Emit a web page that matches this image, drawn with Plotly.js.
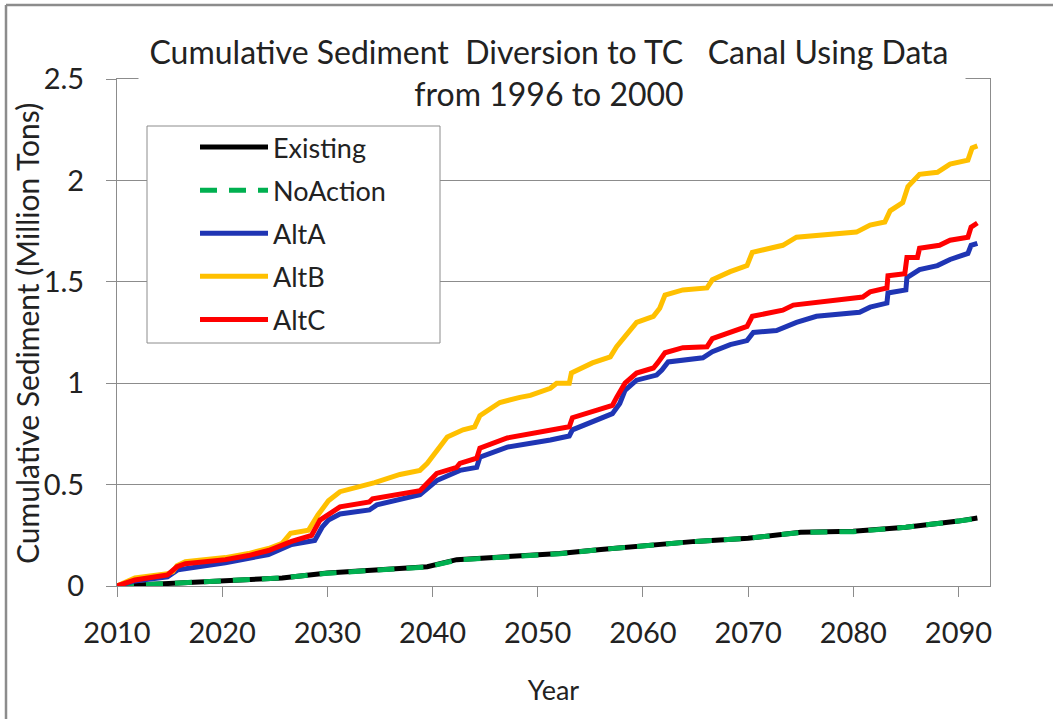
<!DOCTYPE html>
<html>
<head>
<meta charset="utf-8">
<script src="https://cdn.plot.ly/plotly-3.0.1.min.js"></script>
<style>
  html, body { margin: 0; padding: 0; background: #fff; }
  #chart { width: 1053px; height: 719px; }
</style>
</head>
<body>
<div id="chart"></div>
<script>
// ---- Data ----
var seriesNames = ["Existing", "NoAction", "AltA", "AltB", "AltC"];

var existingYears = [2010, 2012, 2015.8, 2020.3, 2025.7, 2030, 2035, 2039.5, 2042.3, 2046, 2052.1, 2056, 2060, 2065, 2070, 2075, 2080, 2085, 2090, 2091.8];
var existingValues = [0, 0.005, 0.015, 0.03, 0.04, 0.064, 0.08, 0.095, 0.13, 0.14, 0.16, 0.18, 0.2, 0.22, 0.235, 0.265, 0.27, 0.29, 0.32, 0.335];

var noActionYears = [2010, 2012, 2015.8, 2020.3, 2025.7, 2030, 2035, 2039.5, 2042.3, 2046, 2052.1, 2056, 2060, 2065, 2070, 2075, 2080, 2085, 2090, 2091.8];
var noActionValues = [0, 0.005, 0.015, 0.03, 0.04, 0.063, 0.08, 0.094, 0.128, 0.14, 0.159, 0.18, 0.2, 0.22, 0.235, 0.264, 0.268, 0.29, 0.32, 0.333];

var altAYears = [2010, 2011.7, 2014.8, 2015.8, 2020.3, 2024.4, 2026.6, 2028.8, 2029.5, 2030.1, 2031.2, 2034.0, 2034.7, 2038.8, 2039.5, 2040.4, 2042.6, 2044.2, 2044.5, 2047.1, 2051.2, 2053.0, 2053.3, 2055.6, 2057.1, 2057.8, 2058.3, 2059.4, 2061.3, 2061.8, 2062.4, 2065.7, 2066.6, 2068.3, 2069.9, 2070.5, 2072.7, 2074.6, 2076.5, 2080.6, 2081.6, 2083.2, 2083.3, 2085.0, 2085.1, 2086.3, 2088.0, 2089.2, 2090.9, 2091.2, 2091.8];
var altAValues = [0, 0.025, 0.045, 0.08, 0.115, 0.155, 0.205, 0.225, 0.29, 0.325, 0.355, 0.375, 0.4, 0.45, 0.48, 0.52, 0.57, 0.585, 0.635, 0.685, 0.72, 0.74, 0.77, 0.82, 0.85, 0.9, 0.965, 1.015, 1.04, 1.065, 1.105, 1.125, 1.155, 1.19, 1.21, 1.25, 1.26, 1.3, 1.33, 1.35, 1.375, 1.395, 1.445, 1.46, 1.52, 1.56, 1.58, 1.61, 1.64, 1.68, 1.69];

var altBYears = [2010, 2011.7, 2014.8, 2015.3, 2015.7, 2016.5, 2020.3, 2022.5, 2024.4, 2025.7, 2026.5, 2028.2, 2029.1, 2030.1, 2031.2, 2032.4, 2034.0, 2034.5, 2036.9, 2038.8, 2039.5, 2040.2, 2041.0, 2041.4, 2042.9, 2044.0, 2044.5, 2046.4, 2048.3, 2049.3, 2051.2, 2051.8, 2053.0, 2053.2, 2055.2, 2056.9, 2057.5, 2058.5, 2059.4, 2061.0, 2061.6, 2062.1, 2063.8, 2066.1, 2066.6, 2068.3, 2069.9, 2070.4, 2073.3, 2074.6, 2076.5, 2080.3, 2081.6, 2083.0, 2083.5, 2084.7, 2085.2, 2086.3, 2088.0, 2089.2, 2090.9, 2091.3, 2091.8];
var altBValues = [0, 0.04, 0.06, 0.07, 0.1, 0.12, 0.14, 0.16, 0.185, 0.21, 0.26, 0.275, 0.35, 0.42, 0.465, 0.48, 0.5, 0.51, 0.55, 0.57, 0.605, 0.655, 0.705, 0.735, 0.77, 0.785, 0.84, 0.905, 0.93, 0.94, 0.975, 1.0, 1.0, 1.05, 1.1, 1.13, 1.18, 1.245, 1.3, 1.33, 1.37, 1.435, 1.46, 1.47, 1.51, 1.55, 1.58, 1.645, 1.68, 1.72, 1.73, 1.745, 1.78, 1.795, 1.85, 1.89, 1.97, 2.03, 2.04, 2.08, 2.1, 2.16, 2.17];

var altCYears = [2010, 2011.7, 2014.8, 2015.7, 2016.5, 2020.3, 2022.5, 2024.4, 2026.6, 2028.5, 2029.3, 2030.4, 2031.2, 2034.0, 2034.3, 2038.8, 2039.5, 2040.4, 2042.3, 2042.6, 2044.2, 2044.5, 2047.1, 2051.2, 2053.0, 2053.3, 2055.6, 2057.1, 2057.5, 2058.3, 2059.4, 2061.0, 2061.4, 2062.1, 2063.8, 2066.1, 2066.6, 2068.3, 2069.9, 2070.4, 2073.3, 2074.3, 2076.5, 2080.9, 2081.6, 2083.2, 2083.3, 2084.9, 2085.1, 2086.1, 2086.3, 2088.2, 2089.2, 2090.9, 2091.2, 2091.8];
var altCValues = [0, 0.03, 0.055, 0.095, 0.11, 0.13, 0.15, 0.175, 0.22, 0.25, 0.325, 0.36, 0.39, 0.415, 0.43, 0.47, 0.51, 0.555, 0.585, 0.605, 0.63, 0.68, 0.73, 0.77, 0.785, 0.83, 0.87, 0.89, 0.93, 1.0, 1.05, 1.075, 1.1, 1.15, 1.175, 1.18, 1.22, 1.25, 1.28, 1.33, 1.36, 1.385, 1.4, 1.425, 1.45, 1.47, 1.53, 1.54, 1.62, 1.62, 1.665, 1.68, 1.705, 1.72, 1.77, 1.79];

var xTickValues = [2010, 2020, 2030, 2040, 2050, 2060, 2070, 2080, 2090];
var xTickLabels = ["2010", "2020", "2030", "2040", "2050", "2060", "2070", "2080", "2090"];
var yTickValues = [0, 0.5, 1, 1.5, 2, 2.5];
var yTickLabels = ["0", "0.5", "1", "1.5", "2", "2.5"];

var chartTitle = "Cumulative Sediment  Diversion to TC   Canal Using Data<br>from 1996 to 2000";
var xTitle = "Year";
var yTitle = "Cumulative Sediment (Million Tons)";

// ---- Styles ----
var FONT = "Lato, 'Open Sans', sans-serif";
var TXT = "#222222";
var GRID = "#8c8c8c";

function mk(name, xs, ys, color, dash) {
  return {
    type: "scatter", mode: "lines", name: name, x: xs, y: ys,
    legendgroup: name,
    line: {color: color, width: 5, dash: dash || "solid", shape: "linear"},
    hoverinfo: "x+y+name"
  };
}

var traces = [
  mk(seriesNames[0], existingYears, existingValues, "#000000"),
  mk(seriesNames[1], noActionYears, noActionValues, "#00b050", "17px,12px"),
  mk(seriesNames[2], altAYears, altAValues, "#1f35b4"),
  mk(seriesNames[3], altBYears, altBValues, "#ffc000"),
  mk(seriesNames[4], altCYears, altCValues, "#ff0000")
];

// plot area pixels: left 117, right 990, top 79, bottom 586
function px(xp) { return (xp - 117) / 873; }
function py(yp) { return (586 - yp) / 507; }

var layout = {
  width: 1053, height: 719,
  margin: {l: 117, r: 63, t: 79, b: 133, pad: 0},
  paper_bgcolor: "#ffffff", plot_bgcolor: "#ffffff",
  font: {family: FONT, color: TXT, size: 28},
  title: {
    text: chartTitle,
    font: {family: FONT, size: 32, color: TXT},
    x: 549 / 1053, xanchor: "center",
    y: 1 - 64 / 719, yanchor: "top", yref: "container"
  },
  showlegend: true,
  legend: {
    x: px(195), y: py(123), xanchor: "left", yanchor: "top",
    bgcolor: "rgba(0,0,0,0)", borderwidth: 0,
    font: {family: FONT, size: 27, color: TXT},
    tracegroupgap: 5, itemwidth: 68,
    traceorder: "grouped"
  },
  xaxis: {
    range: [2010, 2093], tickmode: "array", tickvals: xTickValues, ticktext: xTickLabels,
    showgrid: false, zeroline: false,
    showline: true, linecolor: GRID, linewidth: 1, mirror: true,
    ticks: "outside", ticklen: 10, tickcolor: GRID, tickwidth: 1,
    ticklabelstandoff: 11,
    tickfont: {family: FONT, size: 29, color: TXT},
    title: {text: xTitle, font: {family: FONT, size: 27, color: TXT}, standoff: 33}
  },
  yaxis: {
    range: [0, 2.5], tickmode: "array", tickvals: yTickValues, ticktext: yTickLabels,
    showgrid: true, gridcolor: GRID, gridwidth: 1, zeroline: false,
    showline: true, linecolor: GRID, linewidth: 1, mirror: true,
    ticks: "outside", ticklen: 10, tickcolor: GRID, tickwidth: 1,
    ticklabelstandoff: 16,
    tickfont: {family: FONT, size: 29, color: TXT}
  },
  annotations: [
    // y-axis title, placed close to the tick labels as in the reference
    {text: yTitle, xref: "paper", yref: "paper", x: px(27), y: py(334),
     xanchor: "center", yanchor: "middle", textangle: -90, showarrow: false,
     font: {family: FONT, size: 30, color: TXT}}
  ],
  shapes: [
    // legend frame
    {type: "rect", xref: "paper", yref: "paper", layer: "above",
     x0: px(147), x1: px(440), y0: py(343), y1: py(126),
     fillcolor: "#ffffff", line: {color: "#8c8c8c", width: 1}},
    // white box behind the title hiding the top frame line
    {type: "rect", xref: "paper", yref: "paper", layer: "above",
     x0: px(139), x1: px(965), y0: py(74), y1: py(84),
     fillcolor: "#ffffff", line: {color: "#ffffff", width: 1}},
    // outer chart frame (top and left edges)
    {type: "line", xref: "paper", yref: "paper", layer: "above",
     x0: px(6), x1: px(6), y0: py(719), y1: py(5),
     line: {color: "#8c8c8c", width: 2.5}},
    {type: "line", xref: "paper", yref: "paper", layer: "above",
     x0: px(6), x1: px(1053), y0: py(5), y1: py(5),
     line: {color: "#8c8c8c", width: 2.5}}
  ]
};

Plotly.newPlot("chart", traces, layout, {staticPlot: true, displayModeBar: false});
</script>
</body>
</html>
